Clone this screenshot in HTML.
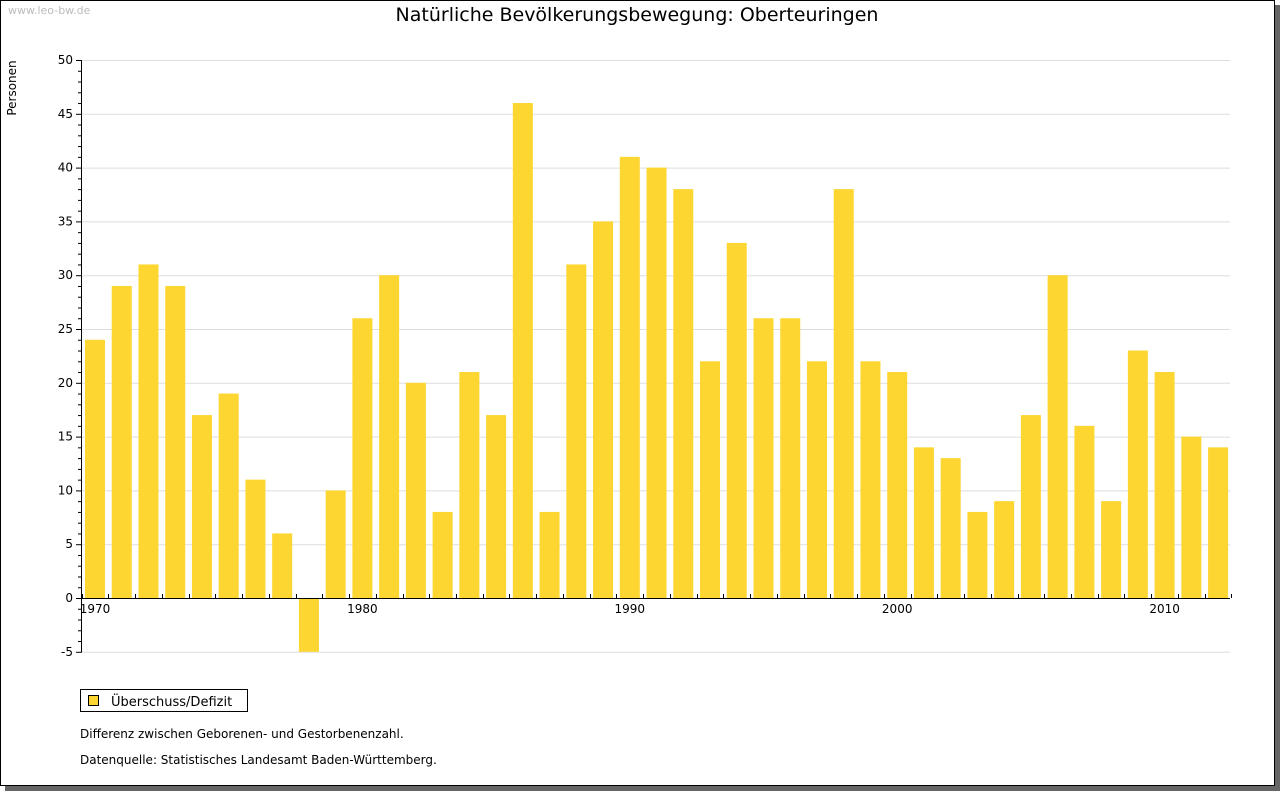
<!DOCTYPE html>
<html><head><meta charset="utf-8"><style>
body{margin:0;background:#fff;width:1280px;height:791px;overflow:hidden;font-family:"DejaVu Sans","Liberation Sans",sans-serif}
</style></head><body>
<svg width="1280" height="791" style="position:absolute;left:0;top:0">
<rect x="5" y="5" width="1275" height="786" fill="#666"/>
<rect x="0.5" y="0.5" width="1274" height="785" fill="#fff" stroke="#000"/>
<text x="8" y="14" font-size="11" fill="#bbb">www.leo-bw.de</text>
<text x="637" y="21" font-size="19" text-anchor="middle" fill="#000">Natürliche Bevölkerungsbewegung: Oberteuringen</text>
<text transform="translate(16,88) rotate(-90)" font-size="12" text-anchor="middle">Personen</text>
<g id="grid"></g><g id="bars"></g><g id="axes"></g>
<rect x="80.5" y="689.5" width="167" height="22" fill="#fff" stroke="#000"/>
<rect x="88.5" y="695.5" width="10" height="10" fill="#fdd631" stroke="#000"/>
<text x="111" y="706" font-size="13">Überschuss/Defizit</text>
<text x="80" y="738" font-size="12">Differenz zwischen Geborenen- und Gestorbenenzahl.</text>
<text x="80" y="764" font-size="12">Datenquelle: Statistisches Landesamt Baden-Württemberg.</text>
</svg>
<script>
const years=[1970,1971,1972,1973,1974,1975,1976,1977,1978,1979,1980,1981,1982,1983,1984,1985,1986,1987,1988,1989,1990,1991,1992,1993,1994,1995,1996,1997,1998,1999,2000,2001,2002,2003,2004,2005,2006,2007,2008,2009,2010,2011,2012];
const values=[24,29,31,29,17,19,11,6,-5,10,26,30,20,8,21,17,46,8,31,35,41,40,38,22,33,26,26,22,38,22,21,14,13,8,9,17,30,16,9,23,21,15,14];
const yTicks=[-5,0,5,10,15,20,25,30,35,40,45,50];
const xLabels=[1970,1980,1990,2000,2010];
const NS="http://www.w3.org/2000/svg";
const y0=598,k=10.76,xl=82,xr=1230,step=26.74,x0=95;
const Y=v=>y0-v*k, X=yr=>x0+(yr-years[0])*step;
function mk(t,a,p){const e=document.createElementNS(NS,t);for(const n in a)e.setAttribute(n,a[n]);p.appendChild(e);return e;}
const g=document.getElementById('grid'),b=document.getElementById('bars'),ax=document.getElementById('axes');
yTicks.forEach(v=>{
 const l=mk('line',{x1:xl,x2:xr,y1:Y(v)+.5,y2:Y(v)+.5,stroke:'#ddd'},g);
 
 
 const t=mk('text',{x:73,y:Y(v)+4,'font-size':12,'text-anchor':'end'},ax);t.textContent=v;
 
 
});
for(let v=-5;v<=50;v++){mk('line',{x1:v%5?78:76,x2:81,y1:Y(v)+.5,y2:Y(v)+.5,stroke:'#000'},ax);}
years.forEach((yr,i)=>{
 const v=values[i];const r=mk('rect',{x:X(yr)-10,y:Math.min(Y(v),Y(0)),width:20,height:Math.abs(Y(v)-Y(0)),fill:'#fdd631'},b);
 
 
});
for(let i=0;i<=years.length;i++){const x=Math.round(X(years[0]+i)-step/2)+.5;mk('line',{x1:x,x2:x,y1:y0-4,y2:y0,stroke:'#000'},ax);}
mk('line',{x1:81.5,x2:81.5,y1:Y(50),y2:Y(-5)+1,stroke:'#000'},ax);
mk('line',{x1:81,x2:xr,y1:y0+.5,y2:y0+.5,stroke:'#000'},ax);
xLabels.forEach(yr=>{const t=mk('text',{x:X(yr),y:613,'font-size':12,'text-anchor':'middle'},ax);t.textContent=yr;
 
 });
</script>
</body></html>
